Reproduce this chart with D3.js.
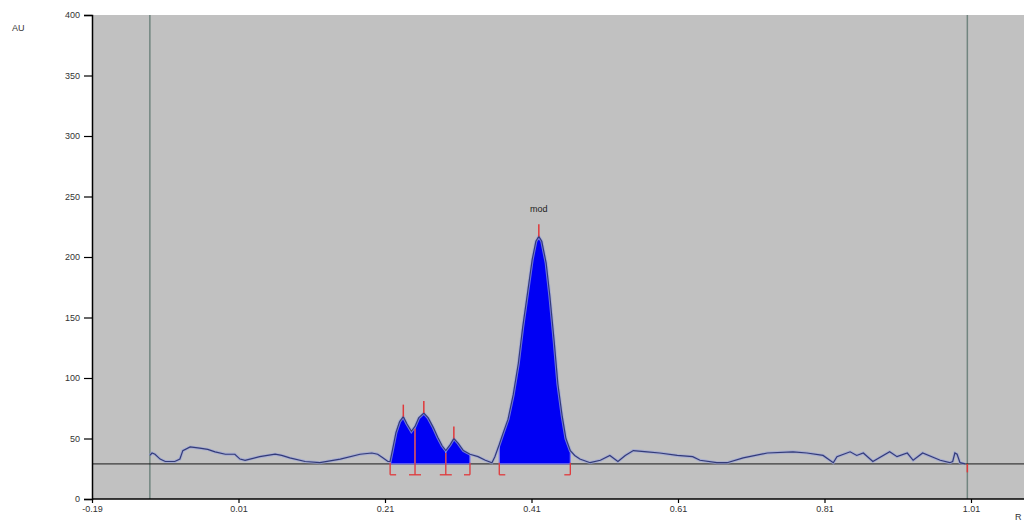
<!DOCTYPE html>
<html>
<head>
<meta charset="utf-8">
<script src="https://cdn.jsdelivr.net/npm/d3@7"></script>
<style>
  body { margin: 0; background: #fff; }
  svg { display: block; font-family: "Liberation Sans", Arial, sans-serif; }
</style>
</head>
<body>
<div id="chart"></div>
<script>
// densitogram trace (Rf, AU)
var rfValues = [-0.111, -0.108, -0.104, -0.097, -0.090, -0.077, -0.070, -0.066, -0.056, -0.043, -0.032, -0.022, -0.008, 0.005, 0.012, 0.019, 0.039, 0.060, 0.069, 0.080, 0.101, 0.121, 0.149, 0.176, 0.192, 0.200, 0.207, 0.214,
  0.217, 0.220, 0.225, 0.230, 0.235, 0.240, 0.246, 0.251, 0.256, 0.263, 0.269, 0.276, 0.282, 0.288, 0.293, 0.299, 0.304, 0.310, 0.317, 0.326,
  0.337, 0.347, 0.356, 0.360,
  0.366, 0.371, 0.378, 0.385, 0.392, 0.398, 0.405, 0.411, 0.416, 0.420, 0.424, 0.430, 0.435, 0.441, 0.446, 0.452, 0.457, 0.463,
  0.469, 0.476, 0.490, 0.504, 0.517, 0.528, 0.538, 0.549, 0.568, 0.585, 0.609, 0.630, 0.640, 0.663, 0.677, 0.699, 0.732, 0.767, 0.786, 0.808, 0.822, 0.827, 0.845, 0.854, 0.863, 0.876, 0.899, 0.909, 0.923, 0.931, 0.944, 0.968, 0.981, 0.985, 0.988, 0.991, 0.995, 1.002];
var auValues = [36, 38, 37, 33, 31, 31, 33, 40, 43, 42, 41, 39, 37, 37, 33, 32, 35, 37, 36, 34, 31, 30, 33, 37, 38, 37, 34, 31,
  31, 40, 55, 64, 68, 62, 56, 60, 67, 71, 67, 59, 51, 44, 40, 45, 50, 46, 40, 37,
  35, 32, 30, 35,
  45, 54, 66, 86, 112, 142, 172, 198, 213, 217, 213, 195, 168, 130, 95, 68, 50, 40,
  36, 33, 30, 32, 36, 31, 36, 40, 39, 38, 36, 35, 32, 30, 30, 34, 38, 39, 38, 36, 30, 35, 39, 36, 38, 31, 39, 35, 38, 32, 38, 32, 30, 31, 38, 37, 30, 29];

var peakStarts = [0.217, 0.251, 0.293, 0.366];
var peakEnds = [0.251, 0.293, 0.326, 0.463];
var peakTops = [0.235, 0.263, 0.304, 0.420];
var peakNames = ["", "", "", "mod"];

var baselineAU = 29;
var startRf = -0.111;
var frontRf = 1.005;
var xTicks = [-0.19, 0.01, 0.21, 0.41, 0.61, 0.81, 1.01];
var yTicks = [0, 50, 100, 150, 200, 250, 300, 350, 400];

var width = 1024, height = 525;
var margin = {top: 15, right: 0, bottom: 26, left: 92};

var svg = d3.select("#chart").append("svg")
    .attr("width", width)
    .attr("height", height);

var x = d3.scaleLinear()
    .domain([-0.19, -0.19 + (width - margin.left) / 146.5 * 0.2])
    .range([margin.left, width - margin.right]);
var y = d3.scaleLinear()
    .domain([0, 400])
    .range([height - margin.bottom, margin.top]);

// plot background
svg.append("rect")
    .attr("x", margin.left).attr("y", margin.top)
    .attr("width", width - margin.left - margin.right)
    .attr("height", y(0) - margin.top)
    .attr("fill", "#c1c1c1");

var trace = rfValues.map(function (d, i) { return {rf: d, au: auValues[i]}; });

// start / front lines
svg.selectAll(".vline")
    .data([startRf, frontRf])
    .enter().append("line")
    .attr("x1", function (d) { return x(d); }).attr("x2", function (d) { return x(d); })
    .attr("y1", margin.top).attr("y2", y(0))
    .attr("stroke", "#71857f").attr("stroke-width", 1.5);

// baseline
svg.append("line")
    .attr("x1", margin.left).attr("x2", width)
    .attr("y1", y(baselineAU)).attr("y2", y(baselineAU))
    .attr("stroke", "#1a1a1a").attr("stroke-width", 1);

// filled peak areas
var area = d3.area()
    .x(function (d) { return x(d.rf); })
    .y0(y(baselineAU))
    .y1(function (d) { return y(d.au); });

peakStarts.forEach(function (s, i) {
    var e = peakEnds[i];
    var pts = trace.filter(function (d) { return d.rf >= s - 1e-9 && d.rf <= e + 1e-9; });
    svg.append("path")
        .datum(pts)
        .attr("d", area)
        .attr("fill", "#0000f4")
        .attr("stroke", "#7a7af0")
        .attr("stroke-width", 1.2)
        .attr("stroke-linejoin", "round");
});

// trace line
var line = d3.line()
    .x(function (d) { return x(d.rf); })
    .y(function (d) { return y(d.au); });

svg.append("path")
    .datum(trace)
    .attr("d", line)
    .attr("fill", "none")
    .attr("stroke", "#9aa3d8")
    .attr("stroke-width", 3)
    .attr("opacity", 0.7);
svg.append("path")
    .datum(trace)
    .attr("d", line)
    .attr("fill", "none")
    .attr("stroke", "#333b78")
    .attr("stroke-width", 1.2);

// peak markers
var red = "#e0383a";
var auAt = d3.scaleLinear().domain(rfValues).range(auValues);
peakTops.forEach(function (p, i) {
    svg.append("line")
        .attr("x1", x(p)).attr("x2", x(p))
        .attr("y1", y(auAt(p))).attr("y2", y(auAt(p) + 10))
        .attr("stroke", red).attr("stroke-width", 1.5);
    if (peakNames[i]) {
        svg.append("text")
            .attr("x", x(p)).attr("y", y(auAt(p) + 10) - 12)
            .attr("text-anchor", "middle")
            .attr("font-size", 9)
            .attr("fill", "#222")
            .text(peakNames[i]);
    }
});

// boundary brackets
var bw = 6;
var bounds = [];
peakStarts.forEach(function (s, i) {
    var shared = peakEnds.indexOf(s) >= 0;
    bounds.push({rf: s, left: shared, right: true});
});
peakEnds.forEach(function (e) {
    if (peakStarts.indexOf(e) < 0) bounds.push({rf: e, left: true, right: false});
});
bounds.forEach(function (b) {
    var bx = x(b.rf), by = y(20);
    var top = b.left && b.right ? y(auAt(b.rf) - 2) : y(baselineAU + 1);
    svg.append("line")
        .attr("x1", bx).attr("x2", bx).attr("y1", top).attr("y2", by)
        .attr("stroke", red).attr("stroke-width", 1.3);
    svg.append("line")
        .attr("x1", b.left ? bx - bw : bx).attr("x2", b.right ? bx + bw : bx)
        .attr("y1", by).attr("y2", by)
        .attr("stroke", red).attr("stroke-width", 1.3);
});
svg.append("line")
    .attr("x1", x(frontRf)).attr("x2", x(frontRf))
    .attr("y1", y(baselineAU)).attr("y2", y(22))
    .attr("stroke", red).attr("stroke-width", 1.5);

// axes
var yAxis = svg.append("g")
    .attr("transform", "translate(" + margin.left + ",0)")
    .call(d3.axisLeft(y).tickValues(yTicks).tickSize(8).tickPadding(4));
var xAxis = svg.append("g")
    .attr("transform", "translate(0," + y(0) + ")")
    .call(d3.axisBottom(x).tickValues(xTicks).tickSize(4).tickPadding(3)
        .tickFormat(function (d) { return d.toFixed(2); }));

[yAxis, xAxis].forEach(function (g) {
    g.select(".domain").attr("stroke", "#000").attr("stroke-width", 1.5);
    g.selectAll(".tick line").attr("stroke", "#000").attr("stroke-width", 1.2);
    g.selectAll(".tick text").attr("font-size", 9).attr("fill", "#333")
        .attr("font-family", "'Liberation Sans', Arial, sans-serif");
});
xAxis.select(".domain").attr("d", "M" + margin.left + ",0H" + width);

svg.append("text")
    .attr("x", 12).attr("y", 31)
    .attr("font-size", 9).attr("fill", "#333")
    .text("AU");
svg.append("text")
    .attr("x", 1015).attr("y", 520)
    .attr("font-size", 9).attr("fill", "#333")
    .text("R");
</script>
</body>
</html>
